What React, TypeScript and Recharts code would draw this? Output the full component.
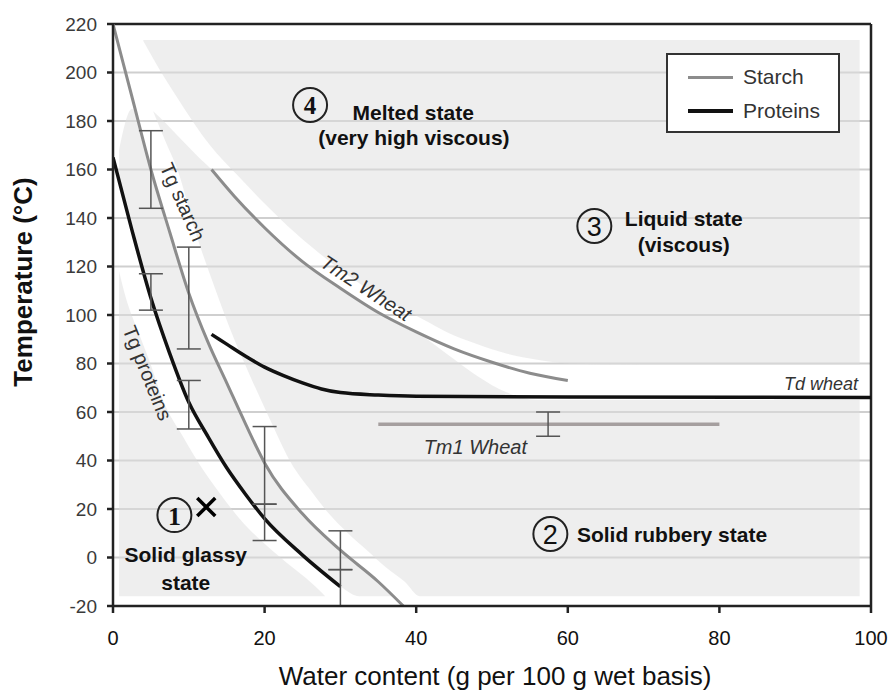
import React from "react";
import {
  Area,
  ComposedChart,
  CartesianGrid,
  ErrorBar,
  Legend,
  Line,
  ReferenceDot,
  ReferenceLine,
  XAxis,
  YAxis,
} from "recharts";

// curves: [water content, temperature]
const tgStarch: [number, number][] = [
  [0, 220], [2.5, 190], [5, 160], [7.5, 134], [10, 109], [12.5, 89], [15, 72],
  [17.5, 55], [20, 39], [25, 18], [30, 3], [35, -10], [38.3, -20],
];
const tgProteins: [number, number][] = [
  [0, 165], [2.5, 135], [5, 107], [7.5, 84], [10, 64], [12.5, 50], [15, 37],
  [17.5, 26], [20, 16], [25, 1], [30, -12],
];
const tm2Wheat: [number, number][] = [
  [13, 160], [16, 149], [20, 136], [25, 122], [30, 111], [35, 101], [40, 93],
  [45, 86], [50, 80.5], [55, 76], [60, 73],
];
const tdWheat: [number, number][] = [
  [13, 92], [15, 88], [17.5, 83], [20, 78.5], [22.5, 75], [25, 72], [27.5, 69.5],
  [30, 68], [35, 67], [40, 66.5], [60, 66.2], [100, 66],
];
const tm1Wheat: [number, number][] = [[35, 55], [80, 55]];

// error bars: [water content, low, high]
const starchErrors: [number, number, number][] = [[5, 144, 176], [10, 86, 128], [20, 22, 54], [30, -5, 11]];
const proteinErrors: [number, number, number][] = [[5, 102, 117], [10, 53, 73], [20, 7, 22], [30, -20, -5]];
const tm1Errors: [number, number, number][] = [[57.4, 50, 60]];

// shaded state zones: [water content, lower, upper]
const glassyZone: [number, number, number][] = [
  [0.8, -16, 118], [1.7, -16, 107], [3.2, -16, 94], [4.7, -16, 82], [6.7, -16, 64],
  [9.2, -16, 50], [11.7, -16, 37], [14.2, -16, 26], [16.7, -16, 16], [21.7, -16, 1],
  [26.7, -16, -12], [28, -16, -16],
];
const transitionZone: [number, number, number][] = [
  [0.8, 155, 168], [2.5, 135, 185], [5, 107, 160], [7.5, 84, 134], [10, 64, 109],
  [12.5, 50, 89], [15, 37, 72], [17.5, 26, 55], [20, 16, 39], [25, 1, 18], [30, -12, 3],
  [32.5, -16, -4], [35, -16, -10], [37, -16, -16],
];
const rubberyZone: [number, number, number][] = [
  [5.3, 184, 184], [7, 171, 179], [8.5, 160, 174], [11, 133, 166], [13, 115, 160],
  [16, 90, 149], [18.5, 72, 141], [21, 55, 133], [23.5, 39, 126], [26, 28, 120],
  [28.5, 18, 114], [31, 10, 109], [33.5, 3, 104], [36, -4, 99], [38.5, -10, 95],
  [40.5, -16, 92], [44, -16, 84], [48, -16, 75], [52, -16, 68], [56, -16, 65],
  [70, -16, 65], [98.5, -16, 65],
];
const meltZone: [number, number, number][] = [
  [4, 213, 213.4], [6, 202, 213.4], [8.4, 190, 213.4], [12.8, 170, 213.4],
  [16.3, 158, 213.4], [20, 146, 213.4], [24, 134, 213.4], [28.2, 123, 213.4],
  [35, 108, 213.4], [41, 98, 213.4], [44, 93, 213.4], [48, 88, 213.4],
  [52, 84, 213.4], [56, 81.5, 213.4], [60, 80, 213.4], [70, 79.5, 213.4],
  [98.5, 79.5, 213.4],
];

const xTicks = [0, 20, 40, 60, 80, 100];
const yTicks = [-20, 0, 20, 40, 60, 80, 100, 120, 140, 160, 180, 200, 220];

const legendNames = ["Starch", "Proteins"];

const FONT = "Arial, 'Liberation Sans', Helvetica, sans-serif";
const SERIF = "'Times New Roman', 'Liberation Serif', serif";
const STARCH = "#8c8c8c";
const PROTEIN = "#111111";
const ZONE = "#dedede";

type Note = {
  x: number;
  y: number;
  text: string;
  size: number;
  bold?: boolean;
  italic?: boolean;
  anchor?: "start" | "middle" | "end";
  angle?: number;
  central?: boolean;
};

const notes: Note[] = [
  { x: 39.6, y: 180.4, text: "Melted state", size: 21, bold: true },
  { x: 39.7, y: 169.9, text: "(very high viscous)", size: 21, bold: true },
  { x: 75.3, y: 136.7, text: "Liquid state", size: 21, bold: true },
  { x: 75.3, y: 126, text: "(viscous)", size: 21, bold: true },
  { x: 61.2, y: 6.4, text: "Solid rubbery state", size: 21, bold: true, anchor: "start" },
  { x: 9.6, y: -1.9, text: "Solid glassy", size: 21, bold: true },
  { x: 9.6, y: -13.4, text: "state", size: 21, bold: true },
  { x: 9.2, y: 146.6, text: "Tg starch", size: 20, angle: 66, central: true },
  { x: 4.55, y: 76.1, text: "Tg proteins", size: 20, angle: 68, central: true },
  { x: 33.4, y: 111.1, text: "Tm2 Wheat", size: 20, italic: true, angle: 33, central: true },
  { x: 98.3, y: 69.1, text: "Td wheat", size: 18, italic: true, anchor: "end" },
  { x: 47.8, y: 45.6, text: "Tm1 Wheat", size: 20, italic: true, central: true },
];

const circled = [
  { x: 26.0, y: 186.6, label: "4", serif: true, size: 25 },
  { x: 63.5, y: 136.7, label: "3", serif: false, size: 27 },
  { x: 57.7, y: 9.7, label: "2", serif: false, size: 27 },
  { x: 8.1, y: 17.5, label: "1", serif: true, size: 26 },
];
const cross = { x: 12.3, y: 20.8 };

const toPoints = (pts: [number, number][]) => pts.map(([x, y]) => ({ x, y }));
const toZone = (rows: [number, number, number][]) => rows.map(([x, lo, hi]) => ({ x, band: [lo, hi] }));
const toErrors = (rows: [number, number, number][]) =>
  rows.map(([x, lo, hi]) => {
    const y = (lo + hi) / 2;
    return { x, y, err: [y - lo, hi - y] };
  });

function centerOf(props: any) {
  const vb = props?.viewBox ?? {};
  return { cx: (vb.x ?? 0) + (vb.width ?? 0) / 2, cy: (vb.y ?? 0) + (vb.height ?? 0) / 2 };
}

function renderNote(note: Note) {
  return (props: any) => {
    const { cx, cy } = centerOf(props);
    return (
      <text
        x={cx}
        y={cy}
        textAnchor={note.anchor ?? "middle"}
        dominantBaseline={note.central ? "central" : "alphabetic"}
        transform={note.angle ? `rotate(${note.angle}, ${cx}, ${cy})` : undefined}
        fontFamily={FONT}
        fontSize={note.size}
        fontWeight={note.bold ? "bold" : "normal"}
        fontStyle={note.italic ? "italic" : "normal"}
        fill={note.bold ? "#111" : "#333"}
      >
        {note.text}
      </text>
    );
  };
}

function renderCircled(c: (typeof circled)[number]) {
  return (props: any) => {
    const { cx, cy } = centerOf(props);
    return (
      <g>
        <circle cx={cx} cy={cy} r={17} fill="none" stroke="#222" strokeWidth={2} />
        <text
          x={cx}
          y={cy + 1}
          textAnchor="middle"
          dominantBaseline="central"
          fontFamily={c.serif ? SERIF : FONT}
          fontWeight={c.serif ? "bold" : "normal"}
          fontSize={c.size}
          fill="#111"
        >
          {c.label}
        </text>
      </g>
    );
  };
}

function renderCross(props: any) {
  const { cx, cy } = centerOf(props);
  const h = 9;
  return (
    <path
      d={`M${cx - h},${cy - h}L${cx + h},${cy + h}M${cx + h},${cy - h}L${cx - h},${cy + h}`}
      stroke="#000"
      strokeWidth={3.5}
    />
  );
}

function renderXTitle(props: any) {
  const vb = props?.viewBox ?? { x: 113, y: 606, width: 758 };
  return (
    <text x={vb.x + vb.width / 2 + 3} y={vb.y + 79} textAnchor="middle" fontFamily={FONT} fontSize={26} fill="#111">
      Water content (g per 100 g wet basis)
    </text>
  );
}

function renderYTitle(props: any) {
  const vb = props?.viewBox ?? { x: 0, y: 24 };
  const x = vb.x + 32;
  const y = vb.y + 258;
  return (
    <text x={x} y={y} transform={`rotate(-90, ${x}, ${y})`} textAnchor="middle" fontFamily={FONT} fontSize={26} fontWeight="bold" fill="#111">
      Temperature (°C)
    </text>
  );
}

function renderLegend() {
  const samples = [
    { color: STARCH, thick: 3 },
    { color: PROTEIN, thick: 4.5 },
  ];
  return (
    <div
      style={{
        position: "relative",
        width: 174,
        height: 80,
        boxSizing: "border-box",
        border: "2px solid #333",
        background: "#fff",
        fontFamily: FONT,
        fontSize: 21,
        color: "#333",
      }}
    >
      {legendNames.map((name, i) => (
        <div
          key={name}
          style={{ position: "absolute", left: 20, top: 22 + i * 34 - 13, height: 26, display: "flex", alignItems: "center" }}
        >
          <span style={{ display: "inline-block", width: 45, height: samples[i].thick, background: samples[i].color }} />
          <span style={{ marginLeft: 10, lineHeight: "26px" }}>{name}</span>
        </div>
      ))}
    </div>
  );
}

export default function App() {
  const zones = [glassyZone, transitionZone, rubberyZone, meltZone];
  const errorPoints = [...toErrors(starchErrors), ...toErrors(proteinErrors), ...toErrors(tm1Errors)];
  return (
    <>
      <style>{"body { margin: 0; overflow: hidden; }"}</style>
      <ComposedChart width={891} height={693} margin={{ top: 24, right: 20, left: 0, bottom: 0 }}>
        <CartesianGrid vertical={false} stroke="#cfcfcf" strokeWidth={2} />
        {zones.map((z, i) => (
          <Area
            key={`zone-${i}`}
            data={toZone(z)}
            dataKey="band"
            type="monotone"
            stroke="none"
            fill={ZONE}
            fillOpacity={0.5}
            dot={false}
            activeDot={false}
            legendType="none"
            isAnimationActive={false}
          />
        ))}
        <XAxis
          type="number"
          dataKey="x"
          domain={[0, 100]}
          ticks={xTicks}
          interval={0}
          allowDataOverflow
          height={87}
          tickSize={7}
          tickMargin={18}
          stroke="#222"
          strokeWidth={2.5}
          tick={{ fill: "#111", fontSize: 20, fontFamily: FONT }}
          label={renderXTitle}
        />
        <YAxis
          type="number"
          domain={[-20, 220]}
          ticks={yTicks}
          interval={0}
          allowDataOverflow
          width={113}
          tickSize={6}
          tickMargin={10}
          stroke="#222"
          strokeWidth={2.5}
          tick={{ fill: "#3a3a3a", fontSize: 19, fontFamily: FONT }}
          label={renderYTitle}
        />
        <ReferenceLine y={220} stroke="#222" strokeWidth={2.5} />
        <ReferenceLine x={100} stroke="#222" strokeWidth={2.5} />

        <Line data={toPoints(tm1Wheat)} dataKey="y" type="linear" stroke="#a59f9f" strokeWidth={3.5} dot={false} activeDot={false} legendType="none" isAnimationActive={false} />
        <Line data={toPoints(tgStarch)} dataKey="y" name="Starch" type="monotone" stroke={STARCH} strokeWidth={3} dot={false} activeDot={false} isAnimationActive={false} />
        <Line data={toPoints(tm2Wheat)} dataKey="y" type="monotone" stroke={STARCH} strokeWidth={3} dot={false} activeDot={false} legendType="none" isAnimationActive={false} />
        <Line data={toPoints(tgProteins)} dataKey="y" name="Proteins" type="monotone" stroke={PROTEIN} strokeWidth={3.5} dot={false} activeDot={false} isAnimationActive={false} />
        <Line data={toPoints(tdWheat)} dataKey="y" type="monotone" stroke={PROTEIN} strokeWidth={3.5} dot={false} activeDot={false} legendType="none" isAnimationActive={false} />

        <Line
          data={errorPoints}
          dataKey="y"
          stroke="none"
          dot={false}
          activeDot={false}
          legendType="none"
          isAnimationActive={false}
        >
          <ErrorBar dataKey="err" direction="y" width={12} stroke="#555" strokeWidth={1.5} isAnimationActive={false} />
        </Line>

        {notes.map((n) => (
          <ReferenceDot key={n.text} x={n.x} y={n.y} r={0} fill="none" stroke="none" ifOverflow="visible" label={renderNote(n)} />
        ))}
        {circled.map((c) => (
          <ReferenceDot key={`c-${c.label}`} x={c.x} y={c.y} r={0} fill="none" stroke="none" ifOverflow="visible" label={renderCircled(c)} />
        ))}
        <ReferenceDot x={cross.x} y={cross.y} r={0} fill="none" stroke="none" ifOverflow="visible" label={renderCross} />

        <Legend
          layout="horizontal"
          verticalAlign="middle"
          align="center"
          content={renderLegend}
          wrapperStyle={{ left: 666, top: 53, width: 174, height: 80 }}
        />
      </ComposedChart>
    </>
  );
}
